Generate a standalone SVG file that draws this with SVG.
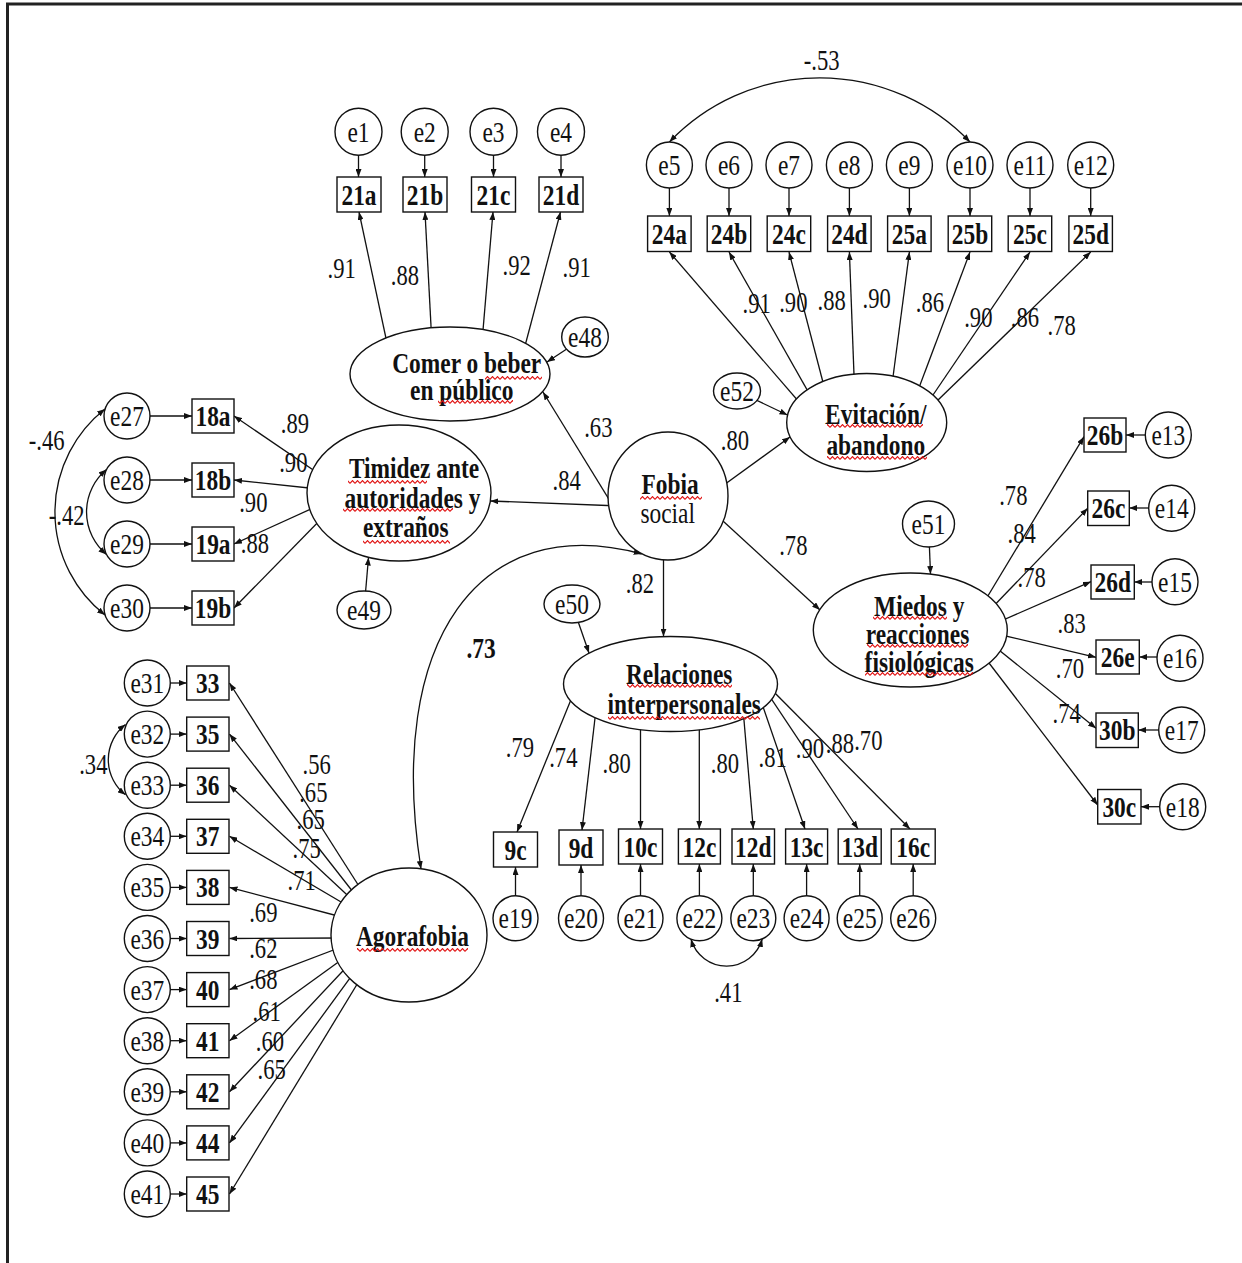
<svg xmlns="http://www.w3.org/2000/svg" width="1242" height="1263" viewBox="0 0 1242 1263">
<defs>
<style>
.n{fill:#fff;stroke:#111;stroke-width:1.4}
.c{fill:none;stroke:#111;stroke-width:1.3;marker-end:url(#ah)}
.cv{fill:none;stroke:#111;stroke-width:1.3;marker-start:url(#ah);marker-end:url(#ah)}
.t{font-family:"Liberation Serif","Times New Roman",serif;font-size:30px;text-anchor:middle;fill:#111}
.l{font-size:29px}
.b{font-weight:bold}
.sq{fill:url(#wv)}
.fr{stroke:#222;stroke-width:3}
</style>
<marker id="ah" viewBox="0 0 8 6" refX="8" refY="3" markerWidth="8" markerHeight="6" markerUnits="userSpaceOnUse" orient="auto-start-reverse"><path d="M0,0L8,3L0,6z" fill="#111"/></marker>
<pattern id="wv" width="5" height="4" patternUnits="userSpaceOnUse"><path d="M0,3.4L2.5,0.6L5,3.4" fill="none" stroke="#e01010" stroke-width="1.1"/></pattern>
</defs>
<rect width="1242" height="1263" fill="#fff"/>
<g id="frame"><line class="fr" x1="6" y1="4" x2="1242" y2="4"/><line class="fr" x1="7.5" y1="3" x2="7.5" y2="1263"/></g>

<g id="connectors">
<path class="c" d="M358.5,155L358.5,177"/><path class="c" d="M424.7,155L424.7,177"/><path class="c" d="M493.5,155L493.5,177"/><path class="c" d="M561,155L561,177"/>
<path class="c" d="M390,357L359,212"/><path class="c" d="M432,345L425,212"/><path class="c" d="M481.5,348L493,212"/><path class="c" d="M521,361L560.5,212"/>
<path class="c" d="M585,337L547,362"/>
<path class="c" d="M669.4,188L669.4,216"/><path class="c" d="M729,188L729,216"/><path class="c" d="M789,188L789,216"/><path class="c" d="M849.4,188L849.4,216"/><path class="c" d="M909.4,188L909.4,216"/><path class="c" d="M970,188L970,216"/><path class="c" d="M1030,188L1030,216"/><path class="c" d="M1090.7,188L1090.7,216"/>
<path class="c" d="M811.6,416.5L669.4,252"/><path class="c" d="M817.6,408.4L729,252"/><path class="c" d="M828,401.5L789,252"/><path class="c" d="M854.8,396L849.4,252"/><path class="c" d="M890.5,396L909.4,252"/><path class="c" d="M912.5,405L970,252"/><path class="c" d="M920.8,413L1030,252"/><path class="c" d="M917.4,420L1090.7,252"/>
<path class="c" d="M737,391L787.5,415"/>
<path class="cv" d="M669.4,142A208,208 0 0 1 970,142"/>
<path class="c" d="M618,514L543,392"/>
<path class="c" d="M620,506L490.4,501"/>
<path class="c" d="M715.6,491L790,437"/>
<path class="c" d="M711,510L820,610"/>
<path class="c" d="M663.5,545L663.5,636.6"/>
<path class="cv" d="M641.7,554C480,510 385,640 421,869"/>
<path class="c" d="M150,416L192,416"/><path class="c" d="M150,480L192,480"/><path class="c" d="M150,544L192,544"/><path class="c" d="M150,608L192,608"/>
<path class="c" d="M325,478L234,416"/><path class="c" d="M318.5,489L234,480"/><path class="c" d="M319.7,505L234,544"/><path class="c" d="M327,513L234,608"/>
<path class="c" d="M364,610L368.5,557.5"/>
<path class="cv" d="M105,409A131,131 0 0 0 105,615"/>
<path class="cv" d="M106.5,469.6A55,55 0 0 0 106.5,554.4"/>
<path class="c" d="M1145.3,435L1126,435"/><path class="c" d="M1148.7,508L1129.3,508"/><path class="c" d="M1152,582L1134.3,582"/><path class="c" d="M1157,657L1139.3,657"/><path class="c" d="M1158.7,730L1138.3,730"/><path class="c" d="M1159.7,806.7L1141,806.7"/>
<path class="c" d="M974,619L1084,436.7"/><path class="c" d="M986,614L1087.7,508.3"/><path class="c" d="M994,624L1091,581.7"/><path class="c" d="M995,633.5L1096,657.3"/><path class="c" d="M989,642L1096,728.3"/><path class="c" d="M976,646L1097.7,805"/>
<path class="c" d="M928.5,524L930.5,574"/>
<path class="c" d="M572,604L589,653"/>
<path class="c" d="M579,680L517,832"/><path class="c" d="M597,701L582,830"/><path class="c" d="M640.5,712L640.5,829"/><path class="c" d="M699.3,712L699.3,829"/><path class="c" d="M742.6,704L753.3,829"/><path class="c" d="M758,692L805,829"/><path class="c" d="M760.5,682.6L858,829"/><path class="c" d="M755,673L910,829"/>
<path class="c" d="M515.5,895.8L515.5,867"/><path class="c" d="M581,895.8L581,865"/><path class="c" d="M640.5,895.8L640.5,864"/><path class="c" d="M699.4,895.8L699.4,864"/><path class="c" d="M753.3,895.8L753.3,864"/><path class="c" d="M806.6,895.8L806.6,864"/><path class="c" d="M859.7,895.8L859.7,864"/><path class="c" d="M913.2,895.8L913.2,864"/>
<path class="cv" d="M691,939.3A37,37 0 0 0 762.2,939"/>
<path class="c" d="M170.3,683L186.7,683"/><path class="c" d="M170.3,734.1L186.7,734.1"/><path class="c" d="M170.3,785.2L186.7,785.2"/><path class="c" d="M170.3,836.3L186.7,836.3"/><path class="c" d="M170.3,887.4L186.7,887.4"/><path class="c" d="M170.3,938.5L186.7,938.5"/><path class="c" d="M170.3,989.6L186.7,989.6"/><path class="c" d="M170.3,1040.7L186.7,1040.7"/><path class="c" d="M170.3,1091.8L186.7,1091.8"/><path class="c" d="M170.3,1142.9L186.7,1142.9"/><path class="c" d="M170.3,1194L186.7,1194"/>
<path class="c" d="M371,905L229.5,683"/><path class="c" d="M364,906L229.5,734.1"/><path class="c" d="M359,906L229.5,785.2"/><path class="c" d="M353,909L229.5,836.3"/><path class="c" d="M345.6,918L229.5,887.4"/><path class="c" d="M342,938L229.5,938.5"/><path class="c" d="M344,946L229.5,989.6"/><path class="c" d="M349.5,954L229.5,1040.7"/><path class="c" d="M355,958L229.5,1091.8"/><path class="c" d="M362,961.6L229.5,1142.9"/><path class="c" d="M370,963L229.5,1194"/>
<path class="cv" d="M125.5,724.5A44.5,44.5 0 0 0 125.5,794.8"/>
</g>

<g id="nodes">
<g id="fobia"><ellipse class="n" cx="668" cy="496" rx="60" ry="64"/><text class="t b" transform="translate(670 494) scale(.78 1)">Fobia</text><text class="t" transform="translate(667.7 523) scale(.78 1)">social</text><rect class="sq" x="640" y="496" width="62" height="4"/></g>
<g id="comer"><ellipse class="n" cx="450" cy="374" rx="100" ry="47"/><text class="t b" transform="translate(466.7 373) scale(.78 1)">Comer o beber</text><text class="t b" transform="translate(461.7 400) scale(.78 1)">en público</text><rect class="sq" x="485" y="376" width="57" height="4"/><rect class="sq" x="438" y="400" width="75" height="4"/></g>
<g id="timidez"><ellipse class="n" cx="399" cy="493" rx="92" ry="68"/><text class="t b" transform="translate(414 478) scale(.78 1)">Timidez ante</text><text class="t b" transform="translate(412.5 508) scale(.78 1)">autoridades y</text><text class="t b" transform="translate(405.8 537) scale(.78 1)">extraños</text><rect class="sq" x="348" y="480" width="79" height="4"/><rect class="sq" x="343" y="508" width="110" height="4"/><rect class="sq" x="363" y="540" width="87" height="4"/></g>
<g id="evitacion"><ellipse class="n" cx="866.7" cy="422.5" rx="80" ry="49"/><text class="t b" transform="translate(875.8 424) scale(.78 1)">Evitación/</text><text class="t b" transform="translate(875.8 455) scale(.78 1)">abandono</text><rect class="sq" x="827" y="424" width="96" height="4"/><rect class="sq" x="827" y="456" width="100" height="4"/></g>
<g id="miedos"><ellipse class="n" cx="910.3" cy="630" rx="97" ry="57"/><text class="t b" transform="translate(919.2 616) scale(.78 1)">Miedos y</text><text class="t b" transform="translate(917.5 644) scale(.78 1)">reacciones</text><text class="t b" transform="translate(919.2 672) scale(.78 1)">fisiológicas</text><rect class="sq" x="873" y="616" width="74" height="4"/><rect class="sq" x="867" y="644" width="101" height="4"/><rect class="sq" x="865" y="672" width="108" height="4"/></g>
<g id="relaciones"><ellipse class="n" cx="670.5" cy="684" rx="107" ry="47.5"/><text class="t b" transform="translate(679.2 684) scale(.78 1)">Relaciones</text><text class="t b" transform="translate(684.2 714) scale(.78 1)">interpersonales</text><rect class="sq" x="627" y="684" width="105" height="4"/><rect class="sq" x="608" y="716" width="152" height="4"/></g>
<g id="agorafobia"><ellipse class="n" cx="409" cy="935" rx="78" ry="67"/><text class="t b" transform="translate(412.5 946) scale(.78 1)">Agorafobia</text><rect class="sq" x="357" y="948" width="111" height="4"/></g>

<g id="e48"><ellipse class="n" cx="585" cy="337" rx="23.3" ry="20"/><text class="t" transform="translate(585 347) scale(.78 1)">e48</text></g>
<g id="e49"><ellipse class="n" cx="364" cy="610" rx="27" ry="19"/><text class="t" transform="translate(364 620) scale(.78 1)">e49</text></g>
<g id="e50"><ellipse class="n" cx="572" cy="604" rx="28" ry="19"/><text class="t" transform="translate(572 614) scale(.78 1)">e50</text></g>
<g id="e51"><ellipse class="n" cx="928.5" cy="524" rx="26" ry="23"/><text class="t" transform="translate(928.5 534) scale(.78 1)">e51</text></g>
<g id="e52"><ellipse class="n" cx="737" cy="391" rx="23.5" ry="18"/><text class="t" transform="translate(737 401) scale(.78 1)">e52</text></g>

<g id="e1"><circle class="n" cx="358.5" cy="131.7" r="23.5"/><text class="t" transform="translate(358.5 141.7) scale(.78 1)">e1</text></g>
<g id="e2"><circle class="n" cx="424.7" cy="131.7" r="23.5"/><text class="t" transform="translate(424.7 141.7) scale(.78 1)">e2</text></g>
<g id="e3"><circle class="n" cx="493.5" cy="131.7" r="23.5"/><text class="t" transform="translate(493.5 141.7) scale(.78 1)">e3</text></g>
<g id="e4"><circle class="n" cx="561" cy="131.7" r="23.5"/><text class="t" transform="translate(561 141.7) scale(.78 1)">e4</text></g>
<g id="v21a"><rect class="n" x="337" y="177" width="44" height="35"/><text class="t b" transform="translate(359 204.5) scale(.78 1)">21a</text></g>
<g id="v21b"><rect class="n" x="403" y="177" width="44" height="35"/><text class="t b" transform="translate(425 204.5) scale(.78 1)">21b</text></g>
<g id="v21c"><rect class="n" x="471.5" y="177" width="44" height="35"/><text class="t b" transform="translate(493.5 204.5) scale(.78 1)">21c</text></g>
<g id="v21d"><rect class="n" x="539" y="177" width="44" height="35"/><text class="t b" transform="translate(561 204.5) scale(.78 1)">21d</text></g>

<g id="e5"><circle class="n" cx="669.4" cy="165" r="23"/><text class="t" transform="translate(669.4 175) scale(.78 1)">e5</text></g>
<g id="e6"><circle class="n" cx="729" cy="165" r="23"/><text class="t" transform="translate(729 175) scale(.78 1)">e6</text></g>
<g id="e7"><circle class="n" cx="789" cy="165" r="23"/><text class="t" transform="translate(789 175) scale(.78 1)">e7</text></g>
<g id="e8"><circle class="n" cx="849.4" cy="165" r="23"/><text class="t" transform="translate(849.4 175) scale(.78 1)">e8</text></g>
<g id="e9"><circle class="n" cx="909.4" cy="165" r="23"/><text class="t" transform="translate(909.4 175) scale(.78 1)">e9</text></g>
<g id="e10"><circle class="n" cx="970" cy="165" r="23"/><text class="t" transform="translate(970 175) scale(.78 1)">e10</text></g>
<g id="e11"><circle class="n" cx="1030" cy="165" r="23"/><text class="t" transform="translate(1030 175) scale(.78 1)">e11</text></g>
<g id="e12"><circle class="n" cx="1090.7" cy="165" r="23"/><text class="t" transform="translate(1090.7 175) scale(.78 1)">e12</text></g>
<g id="v24a"><rect class="n" x="647.6" y="216" width="43.5" height="35.5"/><text class="t b" transform="translate(669.4 244) scale(.78 1)">24a</text></g>
<g id="v24b"><rect class="n" x="707.2" y="216" width="43.5" height="35.5"/><text class="t b" transform="translate(729 244) scale(.78 1)">24b</text></g>
<g id="v24c"><rect class="n" x="767.2" y="216" width="43.5" height="35.5"/><text class="t b" transform="translate(789 244) scale(.78 1)">24c</text></g>
<g id="v24d"><rect class="n" x="827.6" y="216" width="43.5" height="35.5"/><text class="t b" transform="translate(849.4 244) scale(.78 1)">24d</text></g>
<g id="v25a"><rect class="n" x="887.6" y="216" width="43.5" height="35.5"/><text class="t b" transform="translate(909.4 244) scale(.78 1)">25a</text></g>
<g id="v25b"><rect class="n" x="948.2" y="216" width="43.5" height="35.5"/><text class="t b" transform="translate(970 244) scale(.78 1)">25b</text></g>
<g id="v25c"><rect class="n" x="1008.2" y="216" width="43.5" height="35.5"/><text class="t b" transform="translate(1030 244) scale(.78 1)">25c</text></g>
<g id="v25d"><rect class="n" x="1068.9" y="216" width="43.5" height="35.5"/><text class="t b" transform="translate(1090.7 244) scale(.78 1)">25d</text></g>

<g id="e27"><circle class="n" cx="127" cy="416" r="23"/><text class="t" transform="translate(127 426) scale(.78 1)">e27</text></g>
<g id="e28"><circle class="n" cx="127" cy="480" r="23"/><text class="t" transform="translate(127 490) scale(.78 1)">e28</text></g>
<g id="e29"><circle class="n" cx="127" cy="544" r="23"/><text class="t" transform="translate(127 554) scale(.78 1)">e29</text></g>
<g id="e30"><circle class="n" cx="127" cy="608" r="23"/><text class="t" transform="translate(127 618) scale(.78 1)">e30</text></g>
<g id="v18a"><rect class="n" x="192" y="399" width="42" height="34"/><text class="t b" transform="translate(213 426) scale(.78 1)">18a</text></g>
<g id="v18b"><rect class="n" x="192" y="463" width="42" height="34"/><text class="t b" transform="translate(213 490) scale(.78 1)">18b</text></g>
<g id="v19a"><rect class="n" x="192" y="527" width="42" height="34"/><text class="t b" transform="translate(213 554) scale(.78 1)">19a</text></g>
<g id="v19b"><rect class="n" x="192" y="591" width="42" height="34"/><text class="t b" transform="translate(213 618) scale(.78 1)">19b</text></g>

<g id="v26b"><rect class="n" x="1084" y="418" width="42" height="34"/><text class="t b" transform="translate(1105 445) scale(.78 1)">26b</text></g>
<g id="v26c"><rect class="n" x="1087.7" y="491" width="41.6" height="34.5"/><text class="t b" transform="translate(1108.5 518) scale(.78 1)">26c</text></g>
<g id="v26d"><rect class="n" x="1091" y="565" width="43.3" height="34"/><text class="t b" transform="translate(1112.7 592) scale(.78 1)">26d</text></g>
<g id="v26e"><rect class="n" x="1096" y="640" width="43.3" height="34"/><text class="t b" transform="translate(1117.7 667) scale(.78 1)">26e</text></g>
<g id="v30b"><rect class="n" x="1096" y="713" width="42.3" height="34.5"/><text class="t b" transform="translate(1117.2 740) scale(.78 1)">30b</text></g>
<g id="v30c"><rect class="n" x="1097.7" y="789.5" width="43.3" height="34.5"/><text class="t b" transform="translate(1119.3 817) scale(.78 1)">30c</text></g>
<g id="e13"><circle class="n" cx="1168.3" cy="435" r="23"/><text class="t" transform="translate(1168.3 445) scale(.78 1)">e13</text></g>
<g id="e14"><circle class="n" cx="1171.7" cy="508.3" r="23"/><text class="t" transform="translate(1171.7 518.3) scale(.78 1)">e14</text></g>
<g id="e15"><circle class="n" cx="1175" cy="581.7" r="23"/><text class="t" transform="translate(1175 591.7) scale(.78 1)">e15</text></g>
<g id="e16"><circle class="n" cx="1180" cy="658.3" r="23"/><text class="t" transform="translate(1180 668.3) scale(.78 1)">e16</text></g>
<g id="e17"><circle class="n" cx="1181.7" cy="730" r="23"/><text class="t" transform="translate(1181.7 740) scale(.78 1)">e17</text></g>
<g id="e18"><circle class="n" cx="1182.7" cy="806.7" r="23"/><text class="t" transform="translate(1182.7 816.7) scale(.78 1)">e18</text></g>

<g id="v9c"><rect class="n" x="493.5" y="832" width="44" height="35"/><text class="t b" transform="translate(515.5 859.5) scale(.78 1)">9c</text></g>
<g id="v9d"><rect class="n" x="559" y="830" width="44" height="35"/><text class="t b" transform="translate(581 857.5) scale(.78 1)">9d</text></g>
<g id="v10c"><rect class="n" x="618.5" y="829" width="44" height="35"/><text class="t b" transform="translate(640.5 856.5) scale(.78 1)">10c</text></g>
<g id="v12c"><rect class="n" x="678.4" y="829" width="42" height="35"/><text class="t b" transform="translate(699.4 856.5) scale(.78 1)">12c</text></g>
<g id="v12d"><rect class="n" x="732" y="829" width="42.5" height="35"/><text class="t b" transform="translate(753.3 856.5) scale(.78 1)">12d</text></g>
<g id="v13c"><rect class="n" x="785.6" y="829" width="42" height="35"/><text class="t b" transform="translate(806.6 856.5) scale(.78 1)">13c</text></g>
<g id="v13d"><rect class="n" x="838.2" y="829" width="43" height="35"/><text class="t b" transform="translate(859.7 856.5) scale(.78 1)">13d</text></g>
<g id="v16c"><rect class="n" x="891.2" y="829" width="44" height="35"/><text class="t b" transform="translate(913.2 856.5) scale(.78 1)">16c</text></g>
<g id="e19"><circle class="n" cx="515.5" cy="918.3" r="22.5"/><text class="t" transform="translate(515.5 928.3) scale(.78 1)">e19</text></g>
<g id="e20"><circle class="n" cx="581" cy="918.3" r="22.5"/><text class="t" transform="translate(581 928.3) scale(.78 1)">e20</text></g>
<g id="e21"><circle class="n" cx="640.5" cy="918.3" r="22.5"/><text class="t" transform="translate(640.5 928.3) scale(.78 1)">e21</text></g>
<g id="e22"><circle class="n" cx="699.4" cy="918.3" r="22.5"/><text class="t" transform="translate(699.4 928.3) scale(.78 1)">e22</text></g>
<g id="e23"><circle class="n" cx="753.3" cy="918.3" r="22.5"/><text class="t" transform="translate(753.3 928.3) scale(.78 1)">e23</text></g>
<g id="e24"><circle class="n" cx="806.6" cy="918.3" r="22.5"/><text class="t" transform="translate(806.6 928.3) scale(.78 1)">e24</text></g>
<g id="e25"><circle class="n" cx="859.7" cy="918.3" r="22.5"/><text class="t" transform="translate(859.7 928.3) scale(.78 1)">e25</text></g>
<g id="e26"><circle class="n" cx="913.2" cy="918.3" r="22.5"/><text class="t" transform="translate(913.2 928.3) scale(.78 1)">e26</text></g>

<g id="v33"><rect class="n" x="186.7" y="666" width="42.3" height="34"/><text class="t b" transform="translate(207.8 693) scale(.78 1)">33</text></g>
<g id="v35"><rect class="n" x="186.7" y="717.1" width="42.3" height="34"/><text class="t b" transform="translate(207.8 744.1) scale(.78 1)">35</text></g>
<g id="v36"><rect class="n" x="186.7" y="768.2" width="42.3" height="34"/><text class="t b" transform="translate(207.8 795.2) scale(.78 1)">36</text></g>
<g id="v37"><rect class="n" x="186.7" y="819.3" width="42.3" height="34"/><text class="t b" transform="translate(207.8 846.3) scale(.78 1)">37</text></g>
<g id="v38"><rect class="n" x="186.7" y="870.4" width="42.3" height="34"/><text class="t b" transform="translate(207.8 897.4) scale(.78 1)">38</text></g>
<g id="v39"><rect class="n" x="186.7" y="921.5" width="42.3" height="34"/><text class="t b" transform="translate(207.8 948.5) scale(.78 1)">39</text></g>
<g id="v40"><rect class="n" x="186.7" y="972.6" width="42.3" height="34"/><text class="t b" transform="translate(207.8 999.6) scale(.78 1)">40</text></g>
<g id="v41"><rect class="n" x="186.7" y="1023.7" width="42.3" height="34"/><text class="t b" transform="translate(207.8 1050.7) scale(.78 1)">41</text></g>
<g id="v42"><rect class="n" x="186.7" y="1074.8" width="42.3" height="34"/><text class="t b" transform="translate(207.8 1101.8) scale(.78 1)">42</text></g>
<g id="v44"><rect class="n" x="186.7" y="1125.9" width="42.3" height="34"/><text class="t b" transform="translate(207.8 1152.9) scale(.78 1)">44</text></g>
<g id="v45"><rect class="n" x="186.7" y="1177" width="42.3" height="34"/><text class="t b" transform="translate(207.8 1204) scale(.78 1)">45</text></g>
<g id="e31"><circle class="n" cx="147.3" cy="683" r="23"/><text class="t" transform="translate(147.3 693) scale(.78 1)">e31</text></g>
<g id="e32"><circle class="n" cx="147.3" cy="734.1" r="23"/><text class="t" transform="translate(147.3 744.1) scale(.78 1)">e32</text></g>
<g id="e33"><circle class="n" cx="147.3" cy="785.2" r="23"/><text class="t" transform="translate(147.3 795.2) scale(.78 1)">e33</text></g>
<g id="e34"><circle class="n" cx="147.3" cy="836.3" r="23"/><text class="t" transform="translate(147.3 846.3) scale(.78 1)">e34</text></g>
<g id="e35"><circle class="n" cx="147.3" cy="887.4" r="23"/><text class="t" transform="translate(147.3 897.4) scale(.78 1)">e35</text></g>
<g id="e36"><circle class="n" cx="147.3" cy="938.5" r="23"/><text class="t" transform="translate(147.3 948.5) scale(.78 1)">e36</text></g>
<g id="e37"><circle class="n" cx="147.3" cy="989.6" r="23"/><text class="t" transform="translate(147.3 999.6) scale(.78 1)">e37</text></g>
<g id="e38"><circle class="n" cx="147.3" cy="1040.7" r="23"/><text class="t" transform="translate(147.3 1050.7) scale(.78 1)">e38</text></g>
<g id="e39"><circle class="n" cx="147.3" cy="1091.8" r="23"/><text class="t" transform="translate(147.3 1101.8) scale(.78 1)">e39</text></g>
<g id="e40"><circle class="n" cx="147.3" cy="1142.9" r="23"/><text class="t" transform="translate(147.3 1152.9) scale(.78 1)">e40</text></g>
<g id="e41"><circle class="n" cx="147.3" cy="1194" r="23"/><text class="t" transform="translate(147.3 1204) scale(.78 1)">e41</text></g>
</g>

<g id="labels">
<text class="t l" transform="translate(341.7 278) scale(.78 1)">.91</text>
<text class="t l" transform="translate(405 285) scale(.78 1)">.88</text>
<text class="t l" transform="translate(516.7 275) scale(.78 1)">.92</text>
<text class="t l" transform="translate(576.7 276.7) scale(.78 1)">.91</text>
<text class="t l" transform="translate(598.3 436.7) scale(.78 1)">.63</text>
<text class="t l" transform="translate(821.7 70) scale(.78 1)">-.53</text>
<text class="t l" transform="translate(756.7 313.3) scale(.78 1)">.91</text>
<text class="t l" transform="translate(793.3 311.7) scale(.78 1)">.90</text>
<text class="t l" transform="translate(831.7 310) scale(.78 1)">.88</text>
<text class="t l" transform="translate(876.7 308.3) scale(.78 1)">.90</text>
<text class="t l" transform="translate(930 311.7) scale(.78 1)">.86</text>
<text class="t l" transform="translate(978.3 326.7) scale(.78 1)">.90</text>
<text class="t l" transform="translate(1025 326.7) scale(.78 1)">.86</text>
<text class="t l" transform="translate(1061.7 335) scale(.78 1)">.78</text>
<text class="t l" transform="translate(735 450) scale(.78 1)">.80</text>
<text class="t l" transform="translate(566.7 490) scale(.78 1)">.84</text>
<text class="t l" transform="translate(793.3 555) scale(.78 1)">.78</text>
<text class="t l" transform="translate(640 593.3) scale(.78 1)">.82</text>
<text class="t b" transform="translate(481 658) scale(.78 1)">.73</text>
<text class="t l" transform="translate(295 433.3) scale(.78 1)">.89</text>
<text class="t l" transform="translate(293.3 471.7) scale(.78 1)">.90</text>
<text class="t l" transform="translate(253.3 511.7) scale(.78 1)">.90</text>
<text class="t l" transform="translate(255 553.3) scale(.78 1)">.88</text>
<text class="t l" transform="translate(46.7 450) scale(.78 1)">-.46</text>
<text class="t l" transform="translate(66.7 525) scale(.78 1)">-.42</text>
<text class="t l" transform="translate(1013.3 505) scale(.78 1)">.78</text>
<text class="t l" transform="translate(1021.7 543.3) scale(.78 1)">.84</text>
<text class="t l" transform="translate(1031.7 586.7) scale(.78 1)">.78</text>
<text class="t l" transform="translate(1071.7 633.3) scale(.78 1)">.83</text>
<text class="t l" transform="translate(1070 678.3) scale(.78 1)">.70</text>
<text class="t l" transform="translate(1066.7 723.3) scale(.78 1)">.74</text>
<text class="t l" transform="translate(520 756.7) scale(.78 1)">.79</text>
<text class="t l" transform="translate(563.3 766.7) scale(.78 1)">.74</text>
<text class="t l" transform="translate(616.7 773.3) scale(.78 1)">.80</text>
<text class="t l" transform="translate(725 773.3) scale(.78 1)">.80</text>
<text class="t l" transform="translate(772.7 766.7) scale(.78 1)">.81</text>
<text class="t l" transform="translate(810 758.3) scale(.78 1)">.90</text>
<text class="t l" transform="translate(840 753.3) scale(.78 1)">.88</text>
<text class="t l" transform="translate(868.3 750) scale(.78 1)">.70</text>
<text class="t l" transform="translate(728.3 1001.7) scale(.78 1)">.41</text>
<text class="t l" transform="translate(93.3 773.7) scale(.78 1)">.34</text>
<text class="t l" transform="translate(316.7 773.7) scale(.78 1)">.56</text>
<text class="t l" transform="translate(313.3 801.9) scale(.78 1)">.65</text>
<text class="t l" transform="translate(310.7 829.2) scale(.78 1)">.65</text>
<text class="t l" transform="translate(306.7 858.1) scale(.78 1)">.75</text>
<text class="t l" transform="translate(301.7 890) scale(.78 1)">.71</text>
<text class="t l" transform="translate(263.3 921.8) scale(.78 1)">.69</text>
<text class="t l" transform="translate(263.3 957.5) scale(.78 1)">.62</text>
<text class="t l" transform="translate(263.3 989.3) scale(.78 1)">.68</text>
<text class="t l" transform="translate(266.7 1021.2) scale(.78 1)">.61</text>
<text class="t l" transform="translate(270 1051.2) scale(.78 1)">.60</text>
<text class="t l" transform="translate(271.7 1078.6) scale(.78 1)">.65</text>
</g>
</svg>
